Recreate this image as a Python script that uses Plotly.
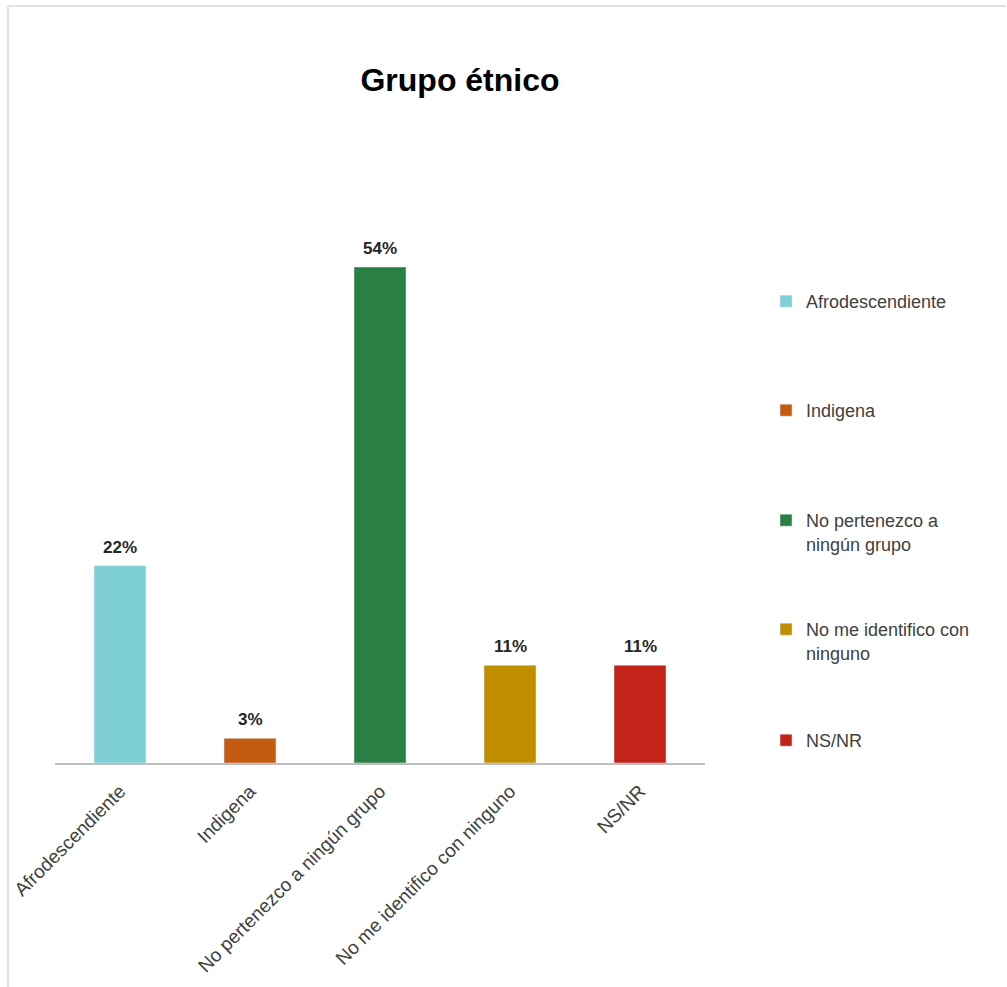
import plotly.graph_objects as go

categories = ["Afrodescendiente", "Indigena", "No pertenezco a ningún grupo",
              "No me identifico con ninguno", "NS/NR"]
legend_labels = ["Afrodescendiente", "Indigena", "No pertenezco a<br>ningún grupo",
                 "No me identifico con<br>ninguno", "NS/NR"]
values = [21.6, 2.7, 54.3, 10.7, 10.7]
colors = ["#7ed0d6", "#c55a11", "#2a7f45", "#bf8f00", "#c4231a"]

W, H = 1007, 987
L, R, T, B = 55, 302, 212, 224
pw, ph = W - L - R, H - T - B

FONT = "Liberation Sans, Arial, sans-serif"


def px2x(p):
    return (p - L) / pw


def py2y(p):
    return (H - B - p) / ph


legend_centers = [301, 410, 520, 629, 740]

fig = go.Figure()
legend_layouts = {}
for i, (c, lab, v, col) in enumerate(zip(categories, legend_labels, values, colors)):
    lname = "legend" if i == 0 else f"legend{i + 1}"
    fig.add_trace(go.Bar(
        x=[c], y=[v], name=lab, marker_color=col,
        legend=lname, width=0.4, hoverinfo="x+y",
    ))
    legend_layouts[lname] = dict(
        x=px2x(766), xanchor="left", y=py2y(legend_centers[i] - 18), yanchor="top",
        font=dict(family=FONT, size=18, color="#404040"),
        valign="top", itemclick=False, bgcolor="rgba(0,0,0,0)",
    )
    fig.add_annotation(
        x=c, y=v, xref="x", yref="y", text=f"{round(v)}%", showarrow=False,
        yanchor="bottom", yshift=7,
        font=dict(family=FONT, size=17, color="#262626", weight="bold"),
    )

fig.update_layout(
    width=W, height=H,
    margin=dict(l=L, r=R, t=T, b=B, autoexpand=False),
    paper_bgcolor="white", plot_bgcolor="white",
    title=dict(text="<b>Grupo étnico</b>", x=460 / W, xanchor="center",
               y=1 - 80 / H, yanchor="middle", xref="container", yref="container",
               font=dict(family=FONT, size=32, color="#000000")),
    showlegend=True,
    xaxis=dict(showline=True, linecolor="#bfbfbf", linewidth=1.5, ticks="",
               tickangle=-45, ticklabelstandoff=8,
               tickfont=dict(family=FONT, size=19, color="#404040"),
               showgrid=False, zeroline=False, categoryorder="array",
               categoryarray=categories),
    yaxis=dict(range=[0, ph / (496 / 54.3)], visible=False, showgrid=False, zeroline=False),
    bargap=0.6,
    shapes=[
        dict(type="line", xref="paper", yref="paper", x0=px2x(8), x1=px2x(1006),
             y0=py2y(6), y1=py2y(6), line=dict(color="#d9d9d9", width=1.5)),
        dict(type="line", xref="paper", yref="paper", x0=px2x(8), x1=px2x(8),
             y0=py2y(6), y1=py2y(1000), line=dict(color="#d9d9d9", width=1.5)),
    ],
    **legend_layouts,
)

fig.write_html("out.html")
